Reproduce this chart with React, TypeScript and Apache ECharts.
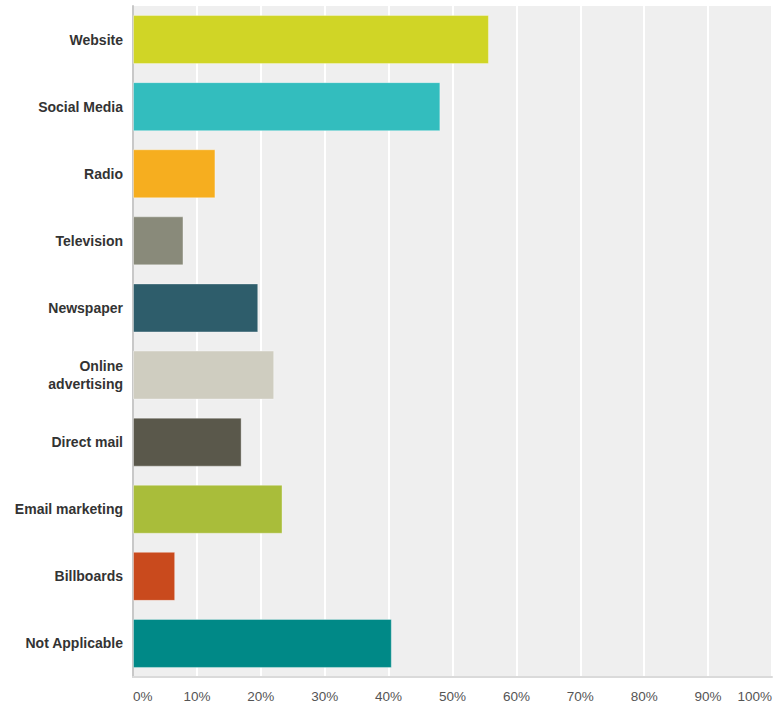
import React, { useEffect, useRef } from "react";
import * as echarts from "echarts";

const categories = [
  "Website",
  "Social Media",
  "Radio",
  "Television",
  "Newspaper",
  "Online\nadvertising",
  "Direct mail",
  "Email marketing",
  "Billboards",
  "Not Applicable",
];

const values = [55.7, 48.1, 12.9, 7.9, 19.6, 22.1, 17.0, 23.4, 6.6, 40.5];

const barColors = [
  "#d0d526",
  "#33bdbe",
  "#f6ae1f",
  "#898a7a",
  "#2e5d6b",
  "#cfcdc0",
  "#5a584b",
  "#a9bd3a",
  "#c94a1d",
  "#008987",
];

export default function App() {
  const ref = useRef<HTMLDivElement>(null);

  useEffect(() => {
    if (!ref.current) return;
    const chart = echarts.init(ref.current, null, { renderer: "svg" });
    chart.setOption({
      animation: false,
      backgroundColor: "#ffffff",
      grid: {
        left: 133,
        right: 1,
        top: 6,
        bottom: 33,
        show: true,
        backgroundColor: "#efefef",
        borderWidth: 0,
      },
      xAxis: {
        type: "value",
        min: 0,
        max: 100,
        interval: 10,
        axisLine: { show: true, lineStyle: { color: "#dadada", width: 2 } },
        axisTick: { show: false },
        splitLine: { show: true, lineStyle: { color: "#ffffff", width: 2 } },
        axisLabel: {
          formatter: "{value}%",
          color: "#555555",
          fontFamily: "Liberation Sans, Arial, sans-serif",
          fontSize: 13.5,
          margin: 12,
          alignMinLabel: "left",
          alignMaxLabel: "right",
        },
      },
      yAxis: {
        type: "category",
        data: categories,
        inverse: true,
        axisLine: { show: true, lineStyle: { color: "#c8c8c8", width: 2 } },
        axisTick: { show: false },
        splitLine: { show: false },
        axisLabel: {
          color: "#333333",
          fontFamily: "Liberation Sans, Arial, sans-serif",
          fontWeight: "bold",
          fontSize: 14,
          margin: 10,
          lineHeight: 18,
          align: "right",
        },
      },
      series: [
        {
          type: "bar",
          barWidth: 49,
          data: values.map((v, i) => ({
            value: v,
            itemStyle: {
              color: barColors[i],
              borderColor: "rgba(255,255,255,0.35)",
              borderWidth: 1,
            },
          })),
        },
      ],
    });
    return () => chart.dispose();
  }, []);

  return (
    <div
      ref={ref}
      style={{ position: "fixed", left: 0, top: 0, width: 775, height: 710 }}
    />
  );
}
